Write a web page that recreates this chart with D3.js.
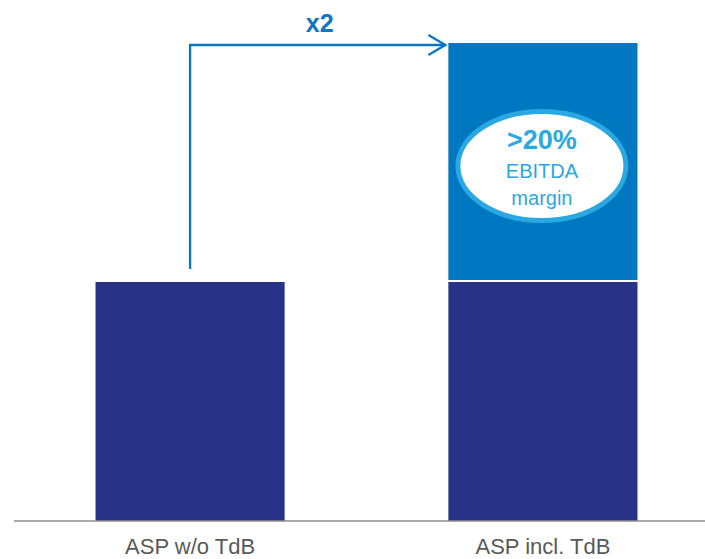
<!DOCTYPE html>
<html>
<head>
<meta charset="utf-8">
<script src="https://cdn.jsdelivr.net/npm/d3@7"></script>
<style>
  html, body { margin: 0; padding: 0; background: #fff; }
  svg { display: block; }
  text { font-family: "Liberation Sans", Arial, sans-serif; }
</style>
</head>
<body>
<svg id="chart" width="705" height="559"></svg>
<script>
// Categories and stacked values (ASP index, base = 1)
const categories = ["ASP w/o TdB", "ASP incl. TdB"];
const baseValues = [1, 1];        // ASP without TdB contribution
const tdbValues = [0, 1];         // additional TdB contribution
const multiplierLabel = "x2";
const calloutLines = [">20%", "EBITDA", "margin"];

const colors = {
  base: "#283388",
  tdb: "#0077c1",
  arrow: "#0d76c3",
  ring: "#2aa8e2",
  axis: "#8c8c8c",
  label: "#595959"
};

const svg = d3.select("#chart");

const x = d3.scaleBand()
  .domain(categories)
  .range([20, 713])
  .paddingInner(0.464)
  .paddingOuter(0.214);

const y = d3.scaleLinear()
  .domain([0, 2])
  .range([521, 43]);

const stackData = categories.map((c, i) => ({ cat: c, base: baseValues[i], tdb: tdbValues[i] }));
const series = d3.stack().keys(["base", "tdb"])(stackData);

const gap = 2; // white separation between stacked segments
svg.append("g").selectAll("g")
  .data(series)
  .join("g")
  .attr("fill", d => colors[d.key])
  .selectAll("rect")
  .data(d => d.map(v => ({ key: d.key, v })))
  .join("rect")
  .filter(d => d.v[1] > d.v[0])
  .attr("x", d => x(d.v.data.cat))
  .attr("width", x.bandwidth())
  .attr("y", d => y(d.v[1]))
  .attr("height", d => y(d.v[0]) - y(d.v[1]) - (d.key === "tdb" ? gap : 0));

// Baseline with category labels
const axis = d3.axisBottom(x).tickSize(0).tickPadding(0);
const axisG = svg.append("g").attr("transform", `translate(0,${y(0)})`).call(axis);
axisG.select(".domain").attr("d", "M14,0H705").attr("stroke", colors.axis).attr("stroke-width", 1.5);
axisG.selectAll(".tick text")
  .attr("y", 33)
  .attr("dy", 0)
  .attr("fill", colors.label)
  .style("font-size", "22px")
  .style("font-family", "'Liberation Sans', Arial, sans-serif");

// Growth arrow from first bar to total of second bar
const cx0 = x(categories[0]) + x.bandwidth() / 2;
const xEnd = x(categories[1]) - 3;
const yTop = y(d3.sum([baseValues[1], tdbValues[1]])) + 2;
const yStart = y(baseValues[0]) - 13;
svg.append("path")
  .attr("d", `M${cx0},${yStart}V${yTop}H${xEnd}`)
  .attr("fill", "none")
  .attr("stroke", colors.arrow)
  .attr("stroke-width", 2.3);
svg.append("path")
  .attr("d", `M${xEnd - 17},${yTop - 10}L${xEnd},${yTop}L${xEnd - 17},${yTop + 10}`)
  .attr("fill", "none")
  .attr("stroke", colors.arrow)
  .attr("stroke-width", 2.3);
svg.append("text")
  .attr("x", (cx0 + xEnd) / 2 + 2)
  .attr("y", 31.5)
  .attr("text-anchor", "middle")
  .attr("fill", colors.arrow)
  .style("font-size", "25px")
  .style("font-weight", "bold")
  .text(multiplierLabel);

// EBITDA margin callout
const cx1 = x(categories[1]) + x.bandwidth() / 2 - 1;
const cy1 = y(baseValues[1] + tdbValues[1] / 2) + 3.5;
svg.append("ellipse")
  .attr("cx", cx1)
  .attr("cy", cy1)
  .attr("rx", 84)
  .attr("ry", 54.5)
  .attr("fill", "#fff")
  .attr("stroke", colors.ring)
  .attr("stroke-width", 5);
const callout = svg.append("text")
  .attr("text-anchor", "middle")
  .attr("fill", colors.ring);
callout.append("tspan").attr("x", cx1).attr("y", cy1 - 17)
  .style("font-size", "27px").style("font-weight", "bold").text(calloutLines[0]);
callout.append("tspan").attr("x", cx1).attr("y", cy1 + 12)
  .style("font-size", "20px").text(calloutLines[1]);
callout.append("tspan").attr("x", cx1).attr("y", cy1 + 39)
  .style("font-size", "20px").text(calloutLines[2]);
</script>
</body>
</html>
